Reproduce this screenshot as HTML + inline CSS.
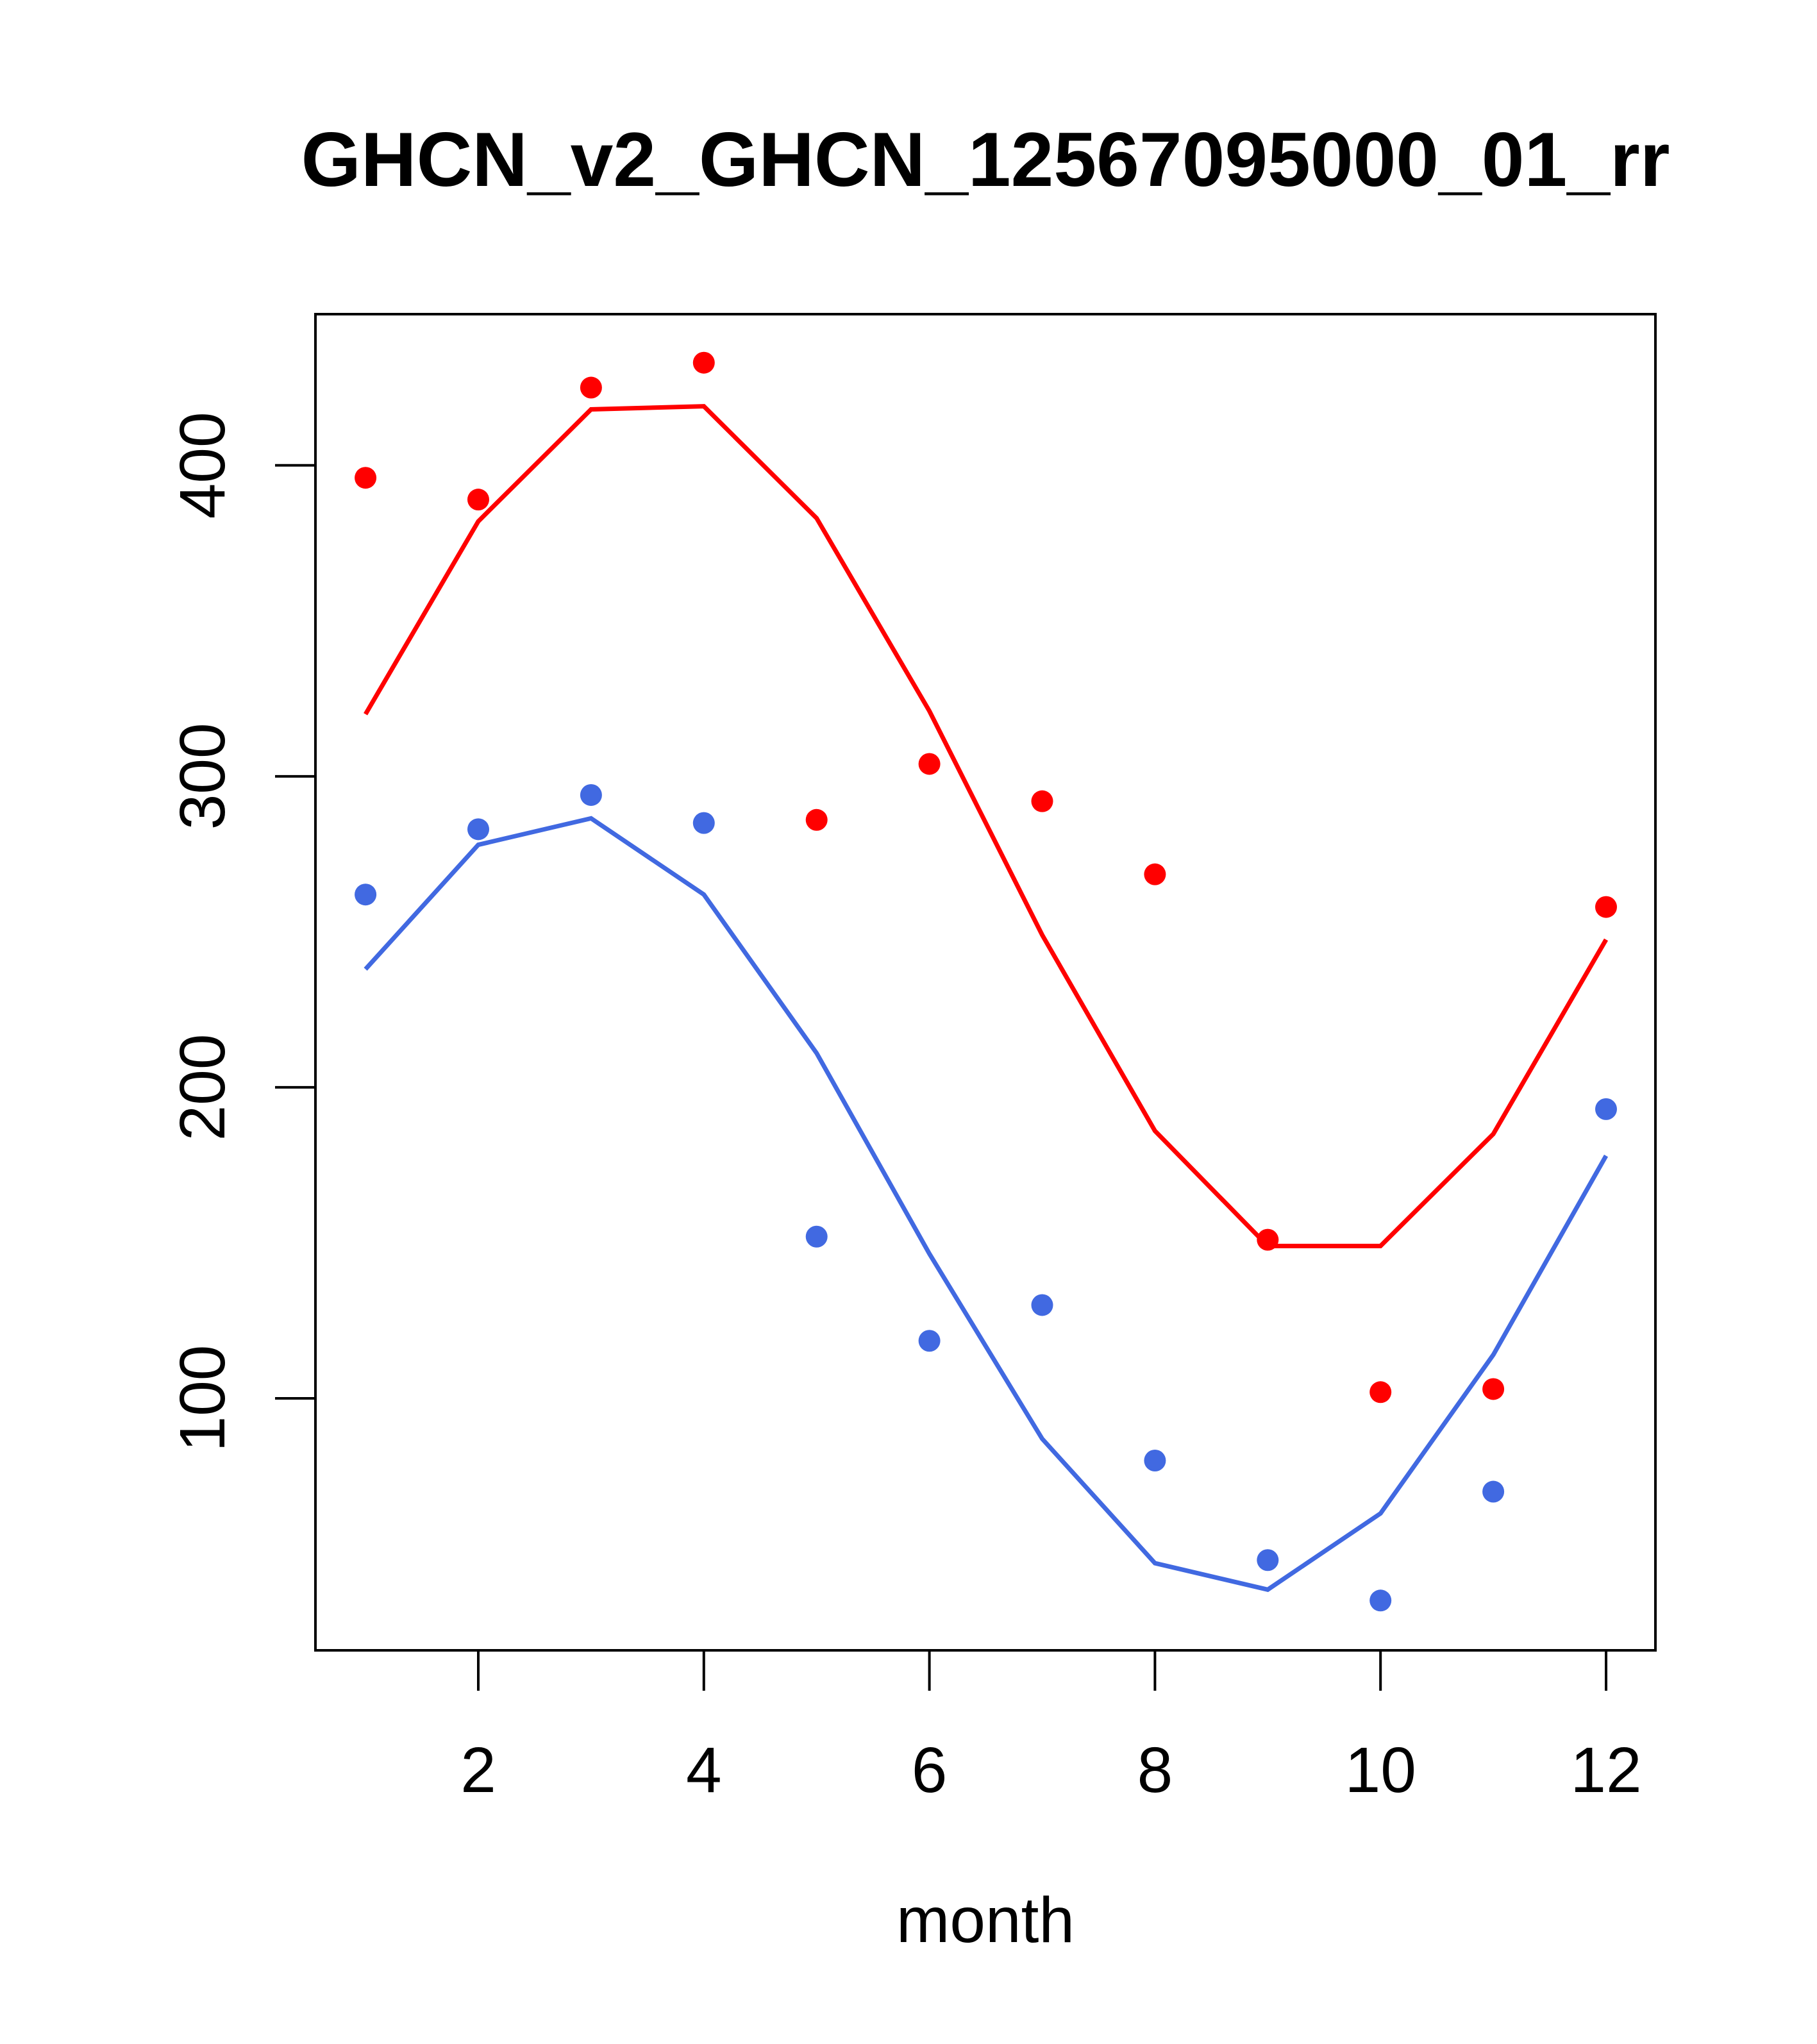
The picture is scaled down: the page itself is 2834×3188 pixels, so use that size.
<!DOCTYPE html>
<html><head><meta charset="utf-8"><style>
html,body{margin:0;padding:0;background:#fff;}
svg{display:block;font-family:"Liberation Sans",Arial,sans-serif;}
</style></head><body>
<svg id="chart" width="2834" height="3188" viewBox="0 0 2834 3188" xmlns="http://www.w3.org/2000/svg">
<rect width="2834" height="3188" fill="#fff"/>
<text x="1537" y="290" font-size="120" font-weight="bold" text-anchor="middle">GHCN_v2_GHCN_12567095000_01_rr</text>
<rect x="492" y="490" width="2090" height="2084" fill="none" stroke="#000" stroke-width="4"/>
<text x="1537" y="3029" font-size="100" text-anchor="middle">month</text>
<g id="axes"></g>
<g id="marks"></g>
</svg>
<script>
const months = [1,2,3,4,5,6,7,8,9,10,11,12];
const redPoints = [396,389,425,433,286,304,292,268.5,151,102,103,258];
const redLine = [320,382,418,419,383,321,249,186,149,149,185,247.5];
const bluePoints = [262,283,294,285,152,118.5,130,80,48,35,70,193];
const blueLine = [238,278,286.5,262,211,146.5,87,47,38.5,63,114,178];
const xTicks = [2,4,6,8,10,12];
const yTicks = [100,200,300,400];

const NS = "http://www.w3.org/2000/svg";
function xs(m){ return 746 + (m-2)*(2505-746)/10; }
function ys(v){ return 725.8 + (400-v)*(2181-725.8)/300; }
function mk(tag, attrs, parent){
  const e = document.createElementNS(NS, tag);
  for (const k in attrs) e.setAttribute(k, attrs[k]);
  parent.appendChild(e);
  return e;
}
const axes = document.getElementById('axes');
const marks = document.getElementById('marks');

xTicks.forEach(t => {
  const l = mk('line', {x1:xs(t), x2:xs(t), y1:2574, y2:2637, stroke:'#000', 'stroke-width':4}, axes);
  
  
  const tx = mk('text', {x:xs(t), y:2795, 'font-size':100, 'text-anchor':'middle'}, axes);
  tx.textContent = t;
  
  
});
yTicks.forEach(t => {
  const l = mk('line', {x1:429, x2:492, y1:ys(t), y2:ys(t), stroke:'#000', 'stroke-width':4}, axes);
  
  
  const tx = mk('text', {x:0, y:0, 'font-size':100, 'text-anchor':'middle', transform:'translate(350,'+ys(t)+') rotate(-90)'}, axes);
  tx.textContent = t;
  
  
});

function drawLine(vals, color, name){
  const p = mk('polyline', {points: vals.map((v,i)=>xs(months[i])+','+ys(v)).join(' '), fill:'none', stroke:color, 'stroke-width':7}, marks);
  
  
}
function drawPoints(vals, color, name){
  vals.forEach((v,i) => {
    const c = mk('circle', {cx:xs(months[i]), cy:ys(v), r:17, fill:color}, marks);
    
    
  });
}
drawLine(redLine, '#ff0000', 'red-fit-line');
drawLine(blueLine, '#4169e1', 'blue-fit-line');
drawPoints(redPoints, '#ff0000', 'red-point');
drawPoints(bluePoints, '#4169e1', 'blue-point');
</script>
</body></html>
